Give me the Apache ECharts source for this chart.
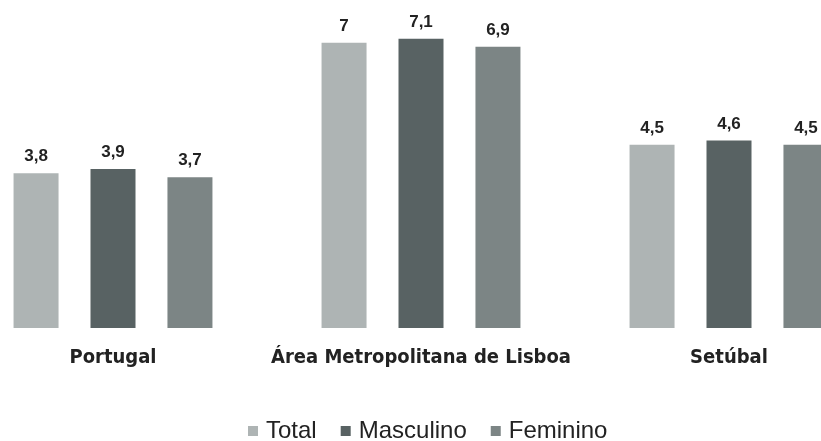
<!DOCTYPE html>
<html>
<head>
<meta charset="utf-8">
<script src="https://cdn.jsdelivr.net/npm/echarts@6/dist/echarts.min.js"></script>
<style>
  html, body { margin: 0; padding: 0; background: #fff; overflow: hidden; }
  /* o gráfico original está cortado à direita e à esquerda */
  #chart { width: 924px; height: 441px; margin-left: -41px; }
</style>
</head>
<body>
<div id="chart"></div>
<script>
var categories = ["Portugal", "Área Metropolitana de Lisboa", "Setúbal"];
var seriesNames = ["Total", "Masculino", "Feminino"];
var totalValues = [3.8, 7, 4.5];
var masculinoValues = [3.9, 7.1, 4.6];
var femininoValues = [3.7, 6.9, 4.5];
var colors = ["#aeb4b4", "#586263", "#7c8585"];

var myChart = echarts.init(document.getElementById("chart"));

// rótulos com vírgula decimal
function labelFmt(p) {
  return String(p.value).replace(".", ",");
}

function makeBar(name, data, color) {
  return {
    name: name,
    type: "bar",
    data: data,
    barWidth: 45,
    barGap: "71%",
    itemStyle: { color: color },
    label: {
      show: true,
      position: "top",
      distance: 8,
      formatter: labelFmt,
      fontFamily: "Liberation Sans",
      fontWeight: "bold",
      fontSize: 17,
      color: "#222"
    }
  };
}

var options = {
  animation: false,
  color: colors,
  grid: {
    left: 0,
    right: 0,
    top: 2,
    bottom: 113
  },
  legend: {
    data: seriesNames,
    left: 284,
    top: 414,
    itemWidth: 10,
    itemHeight: 10,
    itemGap: 24,
    icon: "rect",
    textStyle: {
      fontFamily: "Liberation Sans",
      fontSize: 24,
      color: "#222",
      padding: [0, 0, 0, 3]
    }
  },
  xAxis: {
    type: "category",
    data: categories,
    axisLine: { show: false },
    axisTick: { show: false },
    axisLabel: {
      interval: 0,
      margin: 20,
      fontFamily: "'Liberation Sans Narrow', 'DejaVu Sans Condensed', 'Liberation Sans', sans-serif",
      fontWeight: "bold",
      fontSize: 20,
      color: "#222"
    }
  },
  yAxis: {
    type: "value",
    min: 0,
    max: 8,
    show: false,
    splitLine: { show: false }
  },
  series: [
    makeBar(seriesNames[0], totalValues, colors[0]),
    makeBar(seriesNames[1], masculinoValues, colors[1]),
    makeBar(seriesNames[2], femininoValues, colors[2])
  ]
};
myChart.setOption(options);
</script>
</body>
</html>
